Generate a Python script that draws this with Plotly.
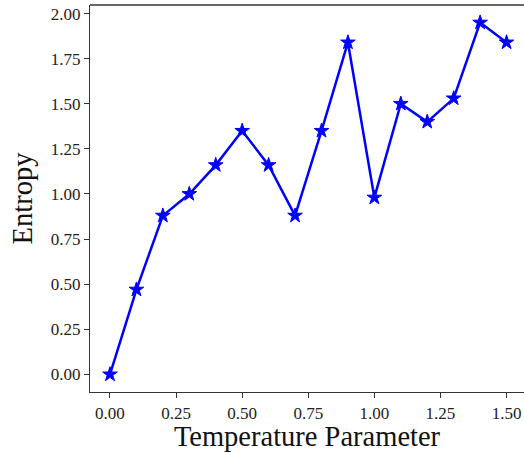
import plotly.graph_objects as go

temperature = [0.0, 0.1, 0.2, 0.3, 0.4, 0.5, 0.6, 0.7, 0.8, 0.9, 1.0, 1.1, 1.2, 1.3, 1.4, 1.5]
entropy = [0.00, 0.47, 0.88, 1.00, 1.16, 1.35, 1.16, 0.88, 1.35, 1.84, 0.98, 1.50, 1.40, 1.53, 1.95, 1.84]
x_ticks = [0.0, 0.25, 0.5, 0.75, 1.0, 1.25, 1.5]
y_ticks = [0.0, 0.25, 0.5, 0.75, 1.0, 1.25, 1.5, 1.75, 2.0]

fig = go.Figure()
fig.add_trace(go.Scatter(
    x=temperature, y=entropy, mode="lines+markers",
    line=dict(color="#0000ff", width=2.5),
    marker=dict(symbol="star", size=11, color="#0000ff", line=dict(color="#0000ff", width=1)),
))

font = "Liberation Serif, Times New Roman, serif"
axis_common = dict(
    showgrid=False, zeroline=False, showline=True, linecolor="#333333", linewidth=1.3,
    ticks="outside", ticklen=5, tickwidth=1.2, tickcolor="#333333",
    tickfont=dict(family=font, size=17, color="#222222"),
)
fig.update_xaxes(
    range=[-0.0756, 1.566], tickvals=x_ticks, ticktext=[f"{v:.2f}" for v in x_ticks],
    mirror=False, title=dict(text="Temperature Parameter", font=dict(family=font, size=28.5, color="#111111"), standoff=10),
    **axis_common,
)
fig.update_yaxes(
    range=[-0.0975, 2.0475], tickvals=y_ticks, ticktext=[f"{v:.2f}" for v in y_ticks],
    title=dict(text="Entropy", font=dict(family=font, size=28.5, color="#111111"), standoff=9),
    **axis_common,
)
fig.add_shape(type="line", xref="paper", yref="paper", x0=0, x1=1, y0=1, y1=1,
              line=dict(color="#333333", width=1.3))
fig.update_layout(
    width=524, height=452, margin=dict(l=90, r=0, t=5, b=60),
    plot_bgcolor="white", paper_bgcolor="white", showlegend=False,
)
fig.write_html("out.html", config={"displayModeBar": False},
               post_script="document.body.style.margin='0';document.body.style.overflow='hidden';")
